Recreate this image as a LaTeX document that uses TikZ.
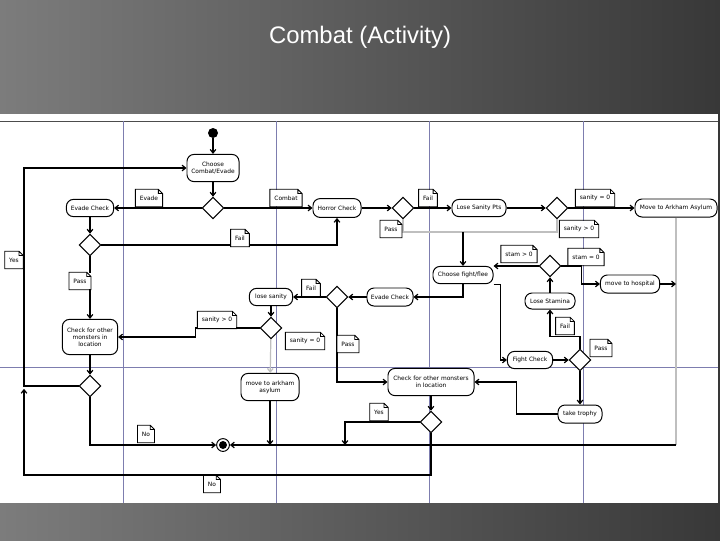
\documentclass[tikz,border=0pt]{standalone}
\usepackage{fontspec}
\setmainfont{Liberation Sans}
\newfontfamily\diag{DejaVu Sans}
\usetikzlibrary{shapes.geometric,arrows.meta}

\definecolor{lanecol}{RGB}{125,125,175}
\definecolor{slidel}{RGB}{124,124,124}
\definecolor{slided}{RGB}{56,56,56}

\begin{document}
\begin{tikzpicture}[x=0.025cm, y=-0.025cm,
        >={Straight Barb[length=2.5pt,width=4pt]},
        act/.style={draw, fill=white, rounded corners=5pt, align=center, inner sep=1pt,
            font=\diag\fontsize{4.2}{5}\selectfont, line width=0.7pt},
        dec/.style={draw, fill=white, diamond, minimum width=0.54cm, minimum height=0.54cm,
            inner sep=0pt, line width=0.7pt},
        note/.style={fill=white, inner xsep=3pt, inner ysep=1pt, minimum height=0.42cm,
            font=\diag\fontsize{4.2}{5}\selectfont},
        flow/.style={->, line width=0.85pt},
        faint/.style={flow, draw=gray!50},
        lanes/.style={draw=lanecol, line width=0.6pt}]

        \useasboundingbox (0,0) rectangle (720,540);
        \shade[left color=slidel, right color=slided] (0,0) rectangle (720,540);
        \fill[white] (0,114) rectangle (718,503);

        \node[text=white, font=\fontsize{17}{20}\selectfont] (title) at (360,37) {Combat (Activity)};

        % swimlanes
        \draw[gray!60!black, line width=0.6pt] (0,121) -- (718,121);
        \foreach \x in {123,276,429,583}
            \draw[lanes] (\x,121) -- (\x,503);
        \draw[lanes] (0,367) -- (718,367);

        % activities
        \node[circle, fill=black, minimum size=0.25cm, inner sep=0pt] (start) at (213,133) {};
        \node[act, minimum width=1.3cm, minimum height=0.68cm] (choose) at (213,168) {Choose\\Combat/Evade};
        \node[act, minimum width=1.18cm, minimum height=0.43cm] (evade1) at (90,208) {Evade Check};
        \node[act, minimum width=1.2cm, minimum height=0.47cm] (horror) at (337,208) {Horror Check};
        \node[act, minimum width=1.35cm, minimum height=0.43cm] (losepts) at (479,208) {Lose Sanity Pts};
        \node[act, minimum width=2.05cm, minimum height=0.45cm] (asylum1) at (676,208) {Move to Arkham Asylum};
        \node[act, minimum width=1.5cm, minimum height=0.43cm] (flee) at (463,275) {Choose fight/flee};
        \node[act, minimum width=1.48cm, minimum height=0.45cm] (hospital) at (630,284) {move to hospital};
        \node[act, minimum width=1.25cm, minimum height=0.4cm] (stamina) at (550,301) {Lose Stamina};
        \node[act, minimum width=1.13cm, minimum height=0.43cm] (fight) at (530,360) {Fight Check};
        \node[act, minimum width=1.1cm, minimum height=0.45cm] (trophy) at (580,414) {take trophy};
        \node[act, minimum width=2.15cm, minimum height=0.68cm] (check2) at (431,382) {Check for other monsters\\in location};
        \node[act, minimum width=1.38cm, minimum height=0.88cm] (check1) at (90,337) {Check for other\\monsters in\\location};
        \node[act, minimum width=1.08cm, minimum height=0.43cm] (losesan) at (271,297) {lose sanity};
        \node[act, minimum width=1.15cm, minimum height=0.45cm] (evade2) at (390,297) {Evade Check};
        \node[act, minimum width=1.45cm, minimum height=0.68cm] (asylum2) at (270,387) {move to arkham\\asylum};
        \node[circle, draw, fill=white, line width=0.7pt, minimum size=0.32cm, inner sep=0pt,
            path picture={\fill[black] (path picture bounding box.center) circle (0.1cm);}] (final) at (223,445) {};

        % decisions
        \node[dec] (d1) at (213,208) {};
        \node[dec] (d2) at (90,245) {};
        \node[dec] (d3) at (403,208) {};
        \node[dec] (d4) at (557,208) {};
        \node[dec] (d5) at (550,266) {};
        \node[dec] (d6) at (580,360) {};
        \node[dec] (d7) at (431,422) {};
        \node[dec] (d8) at (90,386) {};
        \node[dec] (d9) at (271,328) {};
        \node[dec] (d10) at (337,297) {};

        \coordinate (pj) at (463,232);
        \coordinate (mr) at (676,445);
        \coordinate (yj) at (345,445);
        \coordinate (nb) at (24,475);
        \coordinate (lj) at (24,386);

        % flows
        \draw[flow] (start) -- (choose);
        \draw[flow] (choose) -- (d1);
        \draw[flow] (d1) -- (evade1);
        \draw[flow] (d1) -- (horror);
        \draw[flow] (evade1) -- (d2);
        \draw[flow] (d2) -| (horror);
        \draw[flow] (horror) -- (d3);
        \draw[flow] (d3) -- (losepts);
        \draw[flow] (losepts) -- (d4);
        \draw[flow] (d4) -- (asylum1);
        \draw[faint, -] (d3) |- (pj);
        \draw[faint, -] (d4) |- (pj);
        \draw[flow] (pj) -- (flee);
        \draw[flow] (flee) |- (evade2);
        \draw[flow] (flee.south east) -- ++(7,0) |- (fight);
        \draw[flow] (d5) -- (d5 -| flee.east);
        \draw[flow] (d5.east) -- ++(20,0) |- (hospital);
        \draw[flow] (stamina) -- (d5);
        \draw[flow] (fight) -- (d6);
        \draw[flow] (d6.north) -- ++(0,-12) -| (stamina);
        \draw[flow] (d6) -- (trophy);
        \draw[flow] (trophy.west) -- ++(-41,0) |- (check2);
        \draw[flow] (evade2) -- (d10);
        \draw[flow] (d10) -- (losesan);
        \draw[flow] (losesan) -- (d9);
        \draw[flow] (d9.west) -- ++(-64,0) |- (check1);
        \draw[faint] (d9) -- (asylum2);
        \draw[flow] (asylum2) -- (asylum2 |- final);
        \draw[flow] (d10) |- (check2);
        \draw[flow] (check2) -- (d7);
        \draw[flow] (d7) -| (yj);
        \draw[flow] (d7) |- (nb) -- ([yshift=-2pt]lj);
        \draw[flow] (d8) -- (lj) |- (choose);
        \draw[flow] (d8) |- (final);
        \draw[flow] (d2) -- (check1);
        \draw[flow] (check1) -- (d8);
        \draw[faint, -] (asylum1) -- (mr);
        \draw[flow] (mr) -- (final);
        \draw[flow] (hospital) -- (hospital -| mr);

        % guard notes
        \node[note] (nEvade) at (149,198) {Evade};
        \node[note] (nCombat) at (286,198) {Combat};
        \node[note] (nFailA) at (240,238) {Fail};
        \node[note] (nFailB) at (428,198) {Fail};
        \node[note] (nPassA) at (391,229) {Pass};
        \node[note] (nSanEq) at (595,198) {sanity = 0};
        \node[note] (nSanGt) at (579,229) {sanity > 0};
        \node[note] (nStamGt) at (519,254) {stam > 0};
        \node[note] (nStamEq) at (586,257) {stam = 0};
        \node[note] (nFailC) at (565,326) {Fail};
        \node[note] (nPassB) at (601,348) {Pass};
        \node[note] (nYesA) at (14,260) {Yes};
        \node[note] (nPassC) at (80,281) {Pass};
        \node[note] (nFailD) at (311,288) {Fail};
        \node[note] (nSanGtB) at (217,320) {sanity > 0};
        \node[note] (nSanEqB) at (305,341) {sanity = 0};
        \node[note] (nPassD) at (348,344) {Pass};
        \node[note] (nYesB) at (379,412) {Yes};
        \node[note] (nNoA) at (146,434) {No};
        \node[note] (nNoB) at (212,484) {No};
        \foreach \n in {nEvade,nCombat,nFailA,nFailB,nPassA,nSanEq,nSanGt,nStamGt,nStamEq,nFailC,
                nPassB,nYesA,nPassC,nFailD,nSanGtB,nSanEqB,nPassD,nYesB,nNoA,nNoB}
            \draw[line width=0.6pt] (\n.south west) -- (\n.north west) -- ([xshift=-3pt]\n.north east)
                -- ([yshift=-3pt]\n.north east) -- (\n.south east) -- cycle
                ([xshift=-3pt]\n.north east) -- ([xshift=-3pt,yshift=-3pt]\n.north east)
                -- ([yshift=-3pt]\n.north east);
    \end{tikzpicture}
\end{document}
